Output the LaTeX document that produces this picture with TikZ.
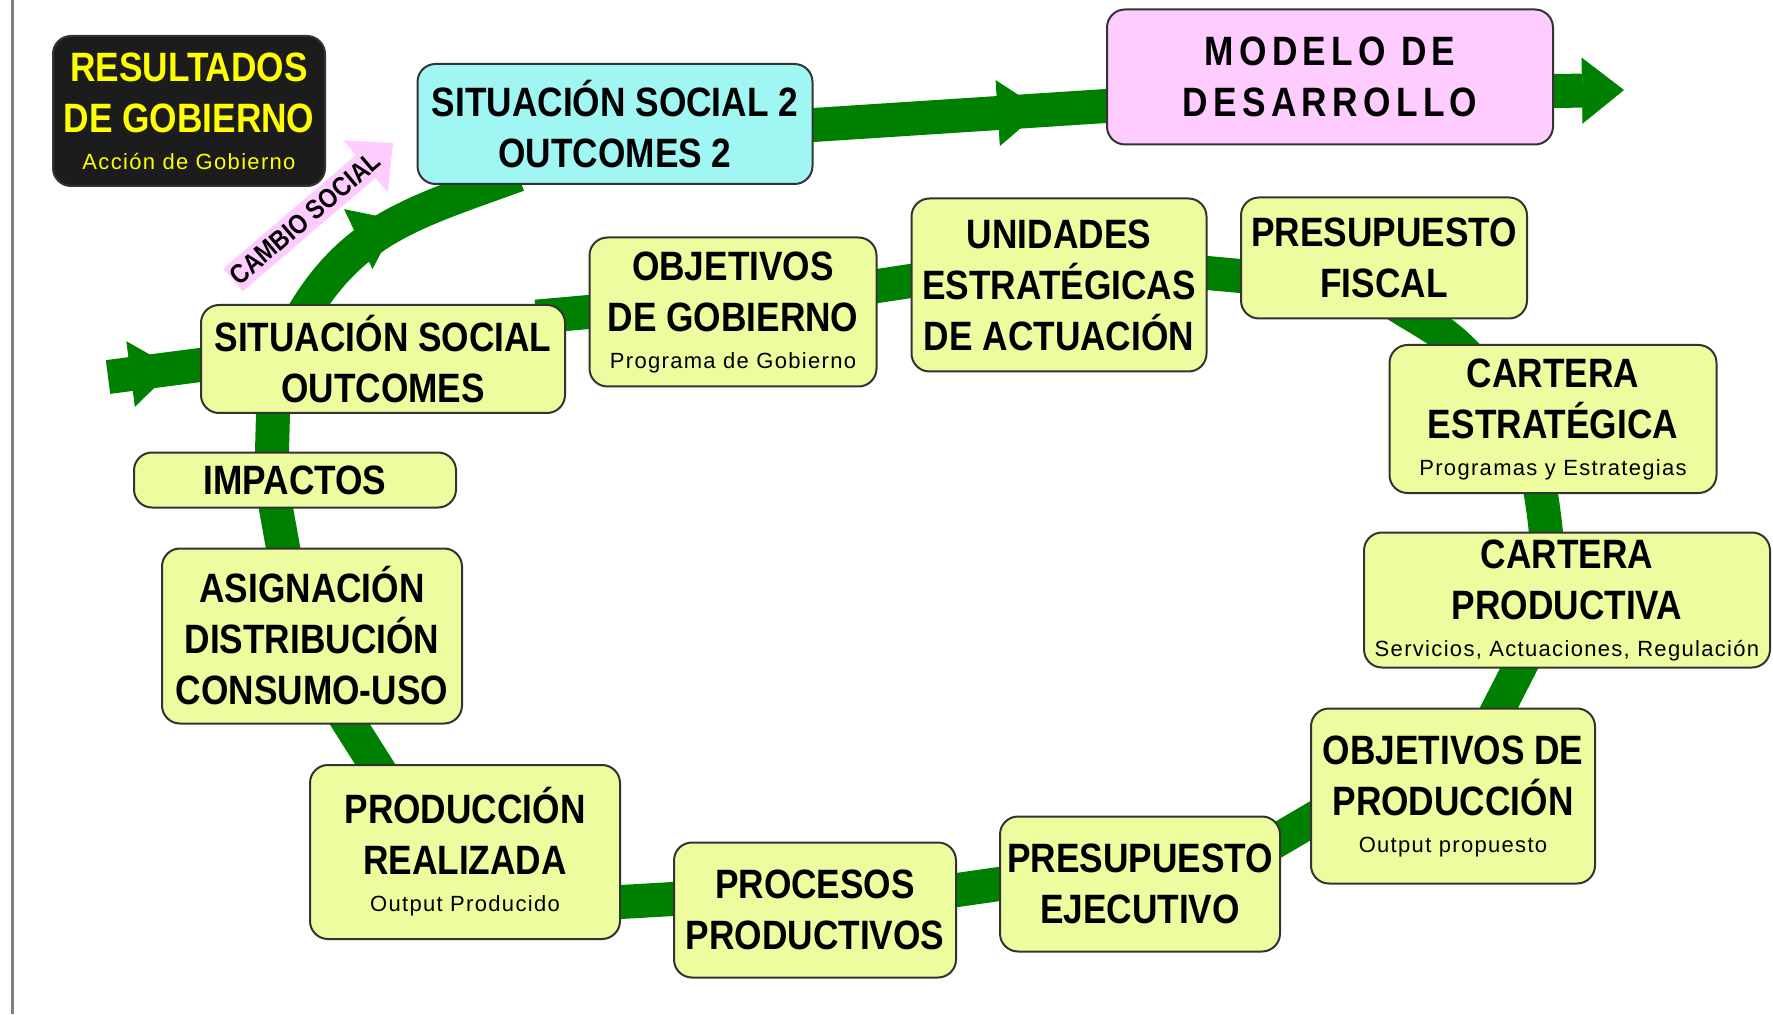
\documentclass[tikz,border=0pt]{standalone}
\usepackage{fontspec}
\setmainfont{Liberation Sans}[FakeStretch=0.86]
\newfontfamily\subfont{Liberation Sans}[LetterSpace=6]
\newfontfamily\modelofont{Liberation Sans}[FakeStretch=0.86,LetterSpace=13]
\usetikzlibrary{arrows.meta}
\usetikzlibrary{decorations.markings}
\usetikzlibrary{%
  calc,%
  backgrounds%
}

\definecolor{bandgreen}{RGB}{0,128,0}
\definecolor{boxyellow}{RGB}{238,252,160}
\definecolor{boxcyan}{RGB}{160,246,242}
\definecolor{boxpink}{RGB}{255,204,255}
\definecolor{boxblack}{RGB}{28,28,28}
\definecolor{textyellow}{RGB}{255,255,0}

\newcommand{\boxfont}{\fontsize{20.5}{25.5}\selectfont\bfseries}
\newcommand{\subline}[1]{{\subfont\mdseries\fontsize{11}{13}\selectfont #1}}

\tikzset{
  box/.style={draw=black!80, line width=1pt, rounded corners=9pt, fill=boxyellow,
    align=center, inner sep=2pt, font=\boxfont},
  band/.style={draw=bandgreen, line width=17pt},
  loopband/.style={band, shorten <=-15pt, shorten >=-15pt},
  midarrow/.style={postaction={decorate}, decoration={markings,
    mark=at position #1 with {\arrow{Triangle[width=33pt,length=22pt,line width=0.4pt]}}}},
  bandtip/.style={-{Triangle[width=33pt,length=21pt,line width=0.4pt]}}
}

\begin{document}
\begin{tikzpicture}[x=0.5pt,y=0.5pt]
\useasboundingbox (0,0) rectangle (1773,1014);
\draw[gray, line width=1.5pt] (12,0) -- (12,1014);

% boxes
\node[box, fill=boxblack, text=textyellow, minimum width=136pt, minimum height=75pt] (res) at (189,903)
  {RESULTADOS\\DE GOBIERNO\\[-7pt]\subline{Acción de Gobierno}};
\node[box, fill=boxcyan, minimum width=197.5pt, minimum height=60pt] (ss2) at (615,890)
  {SITUACIÓN SOCIAL 2\\OUTCOMES 2};
\node[box, fill=boxpink, font={\modelofont\fontsize{20.5}{25.5}\selectfont\bfseries},
  minimum width=223pt, minimum height=67.5pt] (mod) at (1330,937) {MODELO DE\\DESARROLLO};
\node[box, minimum width=147.5pt, minimum height=86.5pt] (uea) at (1059,729)
  {UNIDADES\\ESTRATÉGICAS\\DE ACTUACIÓN};
\node[box, minimum width=143pt, minimum height=60.5pt] (pf) at (1384,756) {PRESUPUESTO\\FISCAL};
\node[box, minimum width=143.5pt, minimum height=74.5pt] (og) at (733,702)
  {OBJETIVOS\\DE GOBIERNO\\[-7pt]\subline{Programa de Gobierno}};
\node[box, minimum width=182pt, minimum height=54pt] (ss) at (383,655) {SITUACIÓN SOCIAL\\OUTCOMES};
\node[box, minimum width=161pt, minimum height=27.5pt] (imp) at (295,534) {IMPACTOS};
\node[box, minimum width=150pt, minimum height=87.5pt] (asig) at (312,378)
  {ASIGNACIÓN\\DISTRIBUCIÓN\\CONSUMO-USO};
\node[box, minimum width=155pt, minimum height=87pt] (pr) at (465,162)
  {PRODUCCIÓN\\REALIZADA\\[-7pt]\subline{Output Producido}};
\node[box, minimum width=141pt, minimum height=67.5pt] (proc) at (815,104) {PROCESOS\\PRODUCTIVOS};
\node[box, minimum width=140pt, minimum height=67.5pt] (pe) at (1140,130) {PRESUPUESTO\\EJECUTIVO};
\node[box, minimum width=142pt, minimum height=87.5pt] (op) at (1453,218)
  {OBJETIVOS DE\\PRODUCCIÓN\\[-7pt]\subline{Output propuesto}};
\node[box, minimum width=203pt, minimum height=67.5pt] (cp) at (1567,414)
  {CARTERA\\PRODUCTIVA\\[-7pt]\subline{Servicios, Actuaciones, Regulación}};
\node[box, minimum width=163.5pt, minimum height=74pt] (ce) at (1553,595)
  {CARTERA\\ESTRATÉGICA\\[-7pt]\subline{Programas y Estrategias}};

% cambio social
\coordinate (cambio tail) at (233,734);
\coordinate (cambio tip) at (393,871);
\draw[draw=boxpink, line width=15pt, -{Triangle[width=34pt,length=18pt,line width=0.4pt]}]
  (cambio tail) -- node[pos=0.45, sloped, font=\fontsize{13.5}{15}\selectfont\bfseries] {CAMBIO SOCIAL} (cambio tip);

\begin{scope}[on background layer]
% main band
\coordinate (entry) at (108,637);
\coordinate (exit tip) at (1624,924);
\draw[band, midarrow=0.72, shorten >=-15pt] (entry) -- ($(ss.west)+(0,-6)$);
\draw[band, midarrow=0.56, shorten <=-15pt, shorten >=-15pt]
  ($(ss.north)+(-75,0)$) to[out=62,in=200] ($(ss2.south)+(-125,0)$);
\draw[band, midarrow=0.78, shorten <=-15pt, shorten >=-15pt]
  ($(ss2.east)+(0,-1)$) -- ($(mod.west)+(0,-29)$);
\draw[band, bandtip, shorten <=-15pt] ($(mod.east)+(0,-14)$) -- (exit tip);

% loop
\draw[loopband] ($(ss.north east)+(0,-10)$) -- (og.west);
\draw[loopband] ($(og.east)+(0,26)$) -- ($(uea.west)+(0,4)$);
\draw[loopband] ($(uea.east)+(0,12)$) -- ($(pf.west)+(0,-18)$);
\draw[loopband] ($(pf.south)+(36,0)$) to[out=-32,in=132] ($(ce.north)+(-96,0)$);
\draw[loopband] ($(ce.south)+(-12,0)$) to[out=-80,in=95] ($(cp.north)+(-21,0)$);
\draw[loopband] ($(cp.south)+(-48,0)$) -- ($(op.north)+(46,0)$);
\draw[loopband] ($(op.west)+(0,-25)$) -- ($(pe.east)+(0,46)$);
\draw[loopband] (pe.west) -- ($(proc.east)+(0,20)$);
\draw[loopband] ($(proc.west)+(0,11)$) -- ($(pr.east)+(0,-50)$);
\draw[loopband] ($(pr.north)+(-90,0)$) -- ($(asig.south)+(38,0)$);
\draw[loopband] ($(asig.north)+(-29,0)$) -- ($(imp.south)+(-19,0)$);
\draw[loopband] ($(imp.north)+(-23,0)$) -- ($(ss.south)+(-110,0)$);
\end{scope}
\end{tikzpicture}
\end{document}
